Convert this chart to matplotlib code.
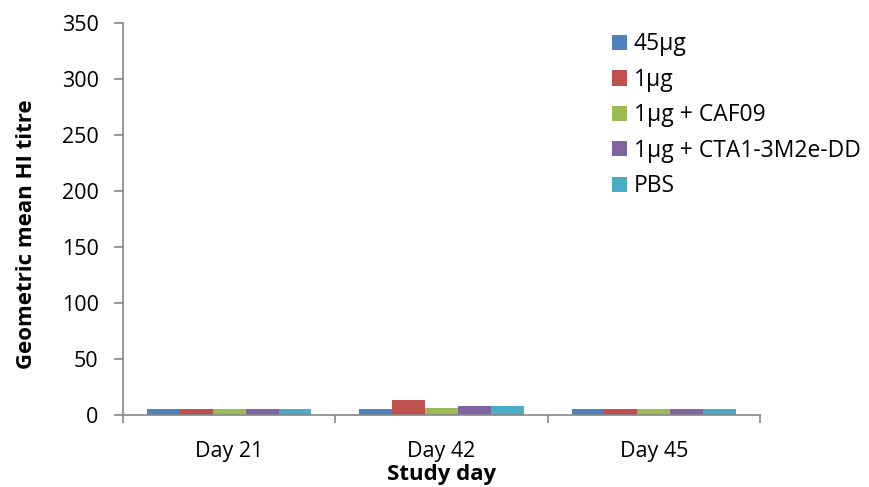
import numpy as np
import matplotlib.pyplot as plt

# ---- data ----
days = ["Day 21", "Day 42", "Day 45"]
groups = ["45µg", "1µg", "1µg + CAF09", "1µg + CTA1-3M2e-DD", "PBS"]
titre_45ug = [5, 5, 5]
titre_1ug = [5, 13.5, 5]
titre_caf09 = [5, 6.5, 5]
titre_cta1 = [5, 8, 5]
titre_pbs = [5, 8, 5.6]
colors = ["#4F81BD", "#C0504D", "#9BBB59", "#8064A2", "#4BACC6"]

series = [titre_45ug, titre_1ug, titre_caf09, titre_cta1, titre_pbs]

plt.rcParams["font.family"] = ["Open Sans", "DejaVu Sans"]

fig = plt.figure(figsize=(8.7, 4.87), dpi=100)
ax = fig.add_axes([0.1414, 0.1478, 0.7322, 0.805])

x = np.arange(len(days))
bar_w = 0.155
for i, (vals, name, col) in enumerate(zip(series, groups, colors)):
    ax.bar(x + (i - 2) * bar_w, vals, width=bar_w, color=col, label=name)

ax.set_xlim(-0.5, len(days) - 0.5)
ax.set_ylim(0, 350)
ax.set_yticks(range(0, 351, 50))
ax.set_xticks(x)
ax.set_xticklabels(days, fontsize=15.5)
ax.set_xticks(np.arange(-0.5, len(days)), minor=True)
ax.tick_params(axis="x", which="major", length=0, pad=19)
ax.tick_params(axis="x", which="minor", length=6, width=1.2,
               color="#868686", direction="out")
ax.tick_params(axis="y", length=6.5, width=1.2, color="#868686",
               direction="out", labelsize=15.5, pad=11)

for s in ["top", "right"]:
    ax.spines[s].set_visible(False)
for s in ["left", "bottom"]:
    ax.spines[s].set_color("#868686")
    ax.spines[s].set_linewidth(1.2)

ax.set_xlabel("Study day", fontsize=16, fontweight="bold", labelpad=1.5)
ax.set_ylabel("Geometric mean HI titre", fontsize=16, fontweight="bold")
ax.yaxis.set_label_coords(-0.135, 0.46)

# legend placed by its top-left corner, in figure pixels
ax.legend(loc="upper left", bbox_to_anchor=(612 / 870, 1 - 32.5 / 487),
          bbox_transform=fig.transFigure, frameon=False, borderpad=0,
          borderaxespad=0, fontsize=16.5, handlelength=0.65,
          handleheight=0.65, handletextpad=0.3, labelspacing=0.5)

fig.savefig("out.png", dpi=100)
